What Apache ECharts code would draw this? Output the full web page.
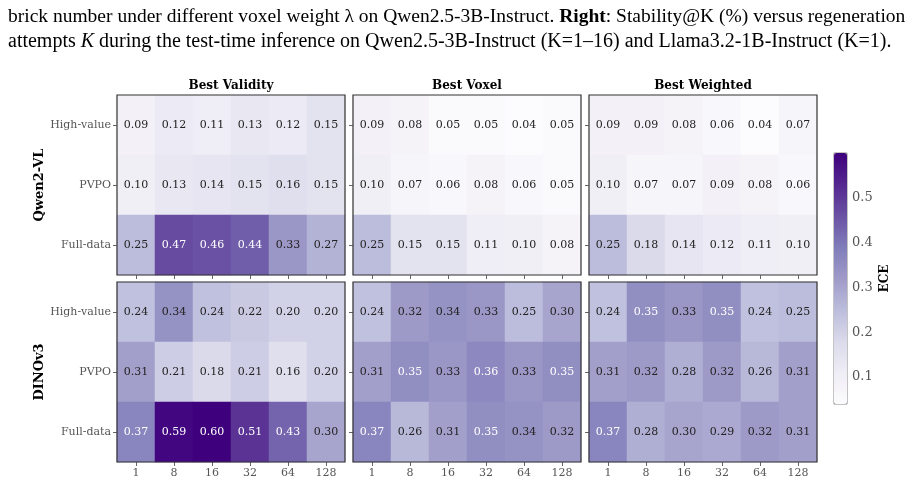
<!DOCTYPE html>
<html>
<head>
<meta charset="utf-8">
<script src="https://cdn.jsdelivr.net/npm/echarts@6/dist/echarts.min.js"></script>
<style>
  html, body { margin: 0; padding: 0; background: #fff; }
  #chart { width: 920px; height: 482px; }
</style>
</head>
<body>
<div id="chart"></div>
<script>
// categories
const budgets = ['1', '8', '16', '32', '64', '128'];
const methods = ['High-value', 'PVPO', 'Full-data'];
const panelTitles = ['Best Validity', 'Best Voxel', 'Best Weighted'];
const backbones = ['Qwen2-VL', 'DINOv3'];

// ECE values, rows = High-value, PVPO, Full-data
const qwenValidity = [
  [0.09, 0.12, 0.11, 0.13, 0.12, 0.15],
  [0.10, 0.13, 0.14, 0.15, 0.16, 0.15],
  [0.25, 0.47, 0.46, 0.44, 0.33, 0.27]
];
const qwenVoxel = [
  [0.09, 0.08, 0.05, 0.05, 0.04, 0.05],
  [0.10, 0.07, 0.06, 0.08, 0.06, 0.05],
  [0.25, 0.15, 0.15, 0.11, 0.10, 0.08]
];
const qwenWeighted = [
  [0.09, 0.09, 0.08, 0.06, 0.04, 0.07],
  [0.10, 0.07, 0.07, 0.09, 0.08, 0.06],
  [0.25, 0.18, 0.14, 0.12, 0.11, 0.10]
];
const dinoValidity = [
  [0.24, 0.34, 0.24, 0.22, 0.20, 0.20],
  [0.31, 0.21, 0.18, 0.21, 0.16, 0.20],
  [0.37, 0.59, 0.60, 0.51, 0.43, 0.30]
];
const dinoVoxel = [
  [0.24, 0.32, 0.34, 0.33, 0.25, 0.30],
  [0.31, 0.35, 0.33, 0.36, 0.33, 0.35],
  [0.37, 0.26, 0.31, 0.35, 0.34, 0.32]
];
const dinoWeighted = [
  [0.24, 0.35, 0.33, 0.35, 0.24, 0.25],
  [0.31, 0.32, 0.28, 0.32, 0.26, 0.31],
  [0.37, 0.28, 0.30, 0.29, 0.32, 0.31]
];
const colorbarTicks = [0.1, 0.2, 0.3, 0.4, 0.5];

const panels = [qwenValidity, qwenVoxel, qwenWeighted, dinoValidity, dinoVoxel, dinoWeighted];

// matplotlib Purples
const purples = ['#fcfbfd', '#efedf5', '#dadaeb', '#bcbddc', '#9e9ac8', '#807dba', '#6a51a3', '#54278f', '#3f007d'];

const serif = '"DejaVu Serif", serif';
const times = '"Liberation Serif", serif';
const lefts = [117, 353, 589];
const tops = [95, 282];
const cellW = 228, cellH = 180;

const grids = [], xAxes = [], yAxes = [], series = [];
panels.forEach(function (rows, i) {
  const r = Math.floor(i / 3), c = i % 3;
  grids.push({
    left: lefts[c], top: tops[r], width: cellW, height: cellH,
    show: true, borderColor: '#333', borderWidth: 1.2, backgroundColor: 'transparent', z: 3
  });
  xAxes.push({
    type: 'category', gridIndex: i, data: budgets,
    axisLine: { show: false },
    axisTick: { show: true, alignWithLabel: true, length: 4, lineStyle: { color: '#666' } },
    axisLabel: { show: r === 1, color: '#555', fontFamily: serif, fontSize: 11, margin: 6 },
    splitLine: { show: false }
  });
  yAxes.push({
    type: 'category', gridIndex: i, data: methods, inverse: true,
    axisLine: { show: false },
    axisTick: { show: true, alignWithLabel: true, length: 4, lineStyle: { color: '#666' } },
    axisLabel: { show: c === 0, color: '#555', fontFamily: serif, fontSize: 11, margin: 6 },
    splitLine: { show: false }
  });
  const data = [];
  rows.forEach(function (row, y) {
    row.forEach(function (v, x) {
      data.push({ value: [x, y, v], label: { color: v > 0.345 ? '#fff' : '#222' } });
    });
  });
  series.push({
    type: 'heatmap', xAxisIndex: i, yAxisIndex: i, data: data,
    label: {
      show: true, fontFamily: serif, fontSize: 11,
      formatter: function (p) { return p.value[2].toFixed(2); }
    },
    emphasis: { disabled: true }
  });
});

// colorbar axis
grids.push({ left: 834, top: 153, width: 13, height: 251, show: true, borderColor: '#888', borderWidth: 1, backgroundColor: 'transparent', z: 3 });
xAxes.push({ type: 'value', gridIndex: 6, show: false, min: 0, max: 1 });
yAxes.push({
  type: 'value', gridIndex: 6, min: 0.04, max: 0.60, position: 'right',
  axisLine: { show: false },
  splitLine: { show: false },
  axisTick: { show: true, length: 4, customValues: colorbarTicks, lineStyle: { color: '#666' } },
  axisLabel: {
    customValues: colorbarTicks, color: '#555', fontFamily: serif, fontSize: 13, margin: 5,
    formatter: function (v) { return v.toFixed(1); }
  },
  name: 'ECE', nameLocation: 'middle', nameRotate: 90, nameGap: 32,
  nameTextStyle: { fontFamily: serif, fontWeight: 'bold', fontSize: 12, color: '#000' }
});

const titles = [
  {
    left: 8, top: 7, padding: 0,
    text: '{a|brick number under different voxel weight λ on Qwen2.5-3B-Instruct. }{b|Right}{a|: Stability@K (%) versus regeneration}',
    textStyle: {
      rich: {
        a: { fontFamily: times, fontSize: 19.5, fontWeight: 'normal', color: '#000' },
        b: { fontFamily: times, fontSize: 19.5, fontWeight: 'bold', color: '#000' }
      }
    }
  },
  {
    left: 8, top: 32, padding: 0,
    text: '{a|attempts }{i|K}{a| during the test-time inference on Qwen2.5-3B-Instruct (K=1–16) and Llama3.2-1B-Instruct (K=1).}',
    textStyle: {
      rich: {
        a: { fontFamily: times, fontSize: 20, fontWeight: 'normal', color: '#000' },
        i: { fontFamily: times, fontSize: 20, fontWeight: 'normal', fontStyle: 'italic', color: '#000' }
      }
    }
  }
];
panelTitles.forEach(function (t, c) {
  titles.push({
    text: t, left: lefts[c] + cellW / 2, top: 80, textAlign: 'center', padding: 0,
    textStyle: { fontFamily: serif, fontWeight: 'bold', fontSize: 12, color: '#000' }
  });
});

const chart = echarts.init(document.getElementById('chart'));
chart.setOption({
  backgroundColor: '#fff',
  animation: false,
  title: titles,
  grid: grids,
  xAxis: xAxes,
  yAxis: yAxes,
  visualMap: {
    type: 'continuous', min: 0.04, max: 0.60, dimension: 2,
    seriesIndex: [0, 1, 2, 3, 4, 5],
    inRange: { color: purples },
    orient: 'vertical', left: 834, top: 153, itemWidth: 13, itemHeight: 251,
    padding: 0, calculable: false, text: null, showLabel: false, hoverLink: false
  },
  graphic: backbones.map(function (name, r) {
    return {
      type: 'text', x: 40, y: tops[r] + cellH / 2, rotation: Math.PI / 2,
      style: {
        text: name, fontFamily: serif, fontWeight: 'bold', fontSize: 13, fill: '#000',
        textAlign: 'center', textVerticalAlign: 'middle'
      }
    };
  }),
  series: series
});
</script>
</body>
</html>
